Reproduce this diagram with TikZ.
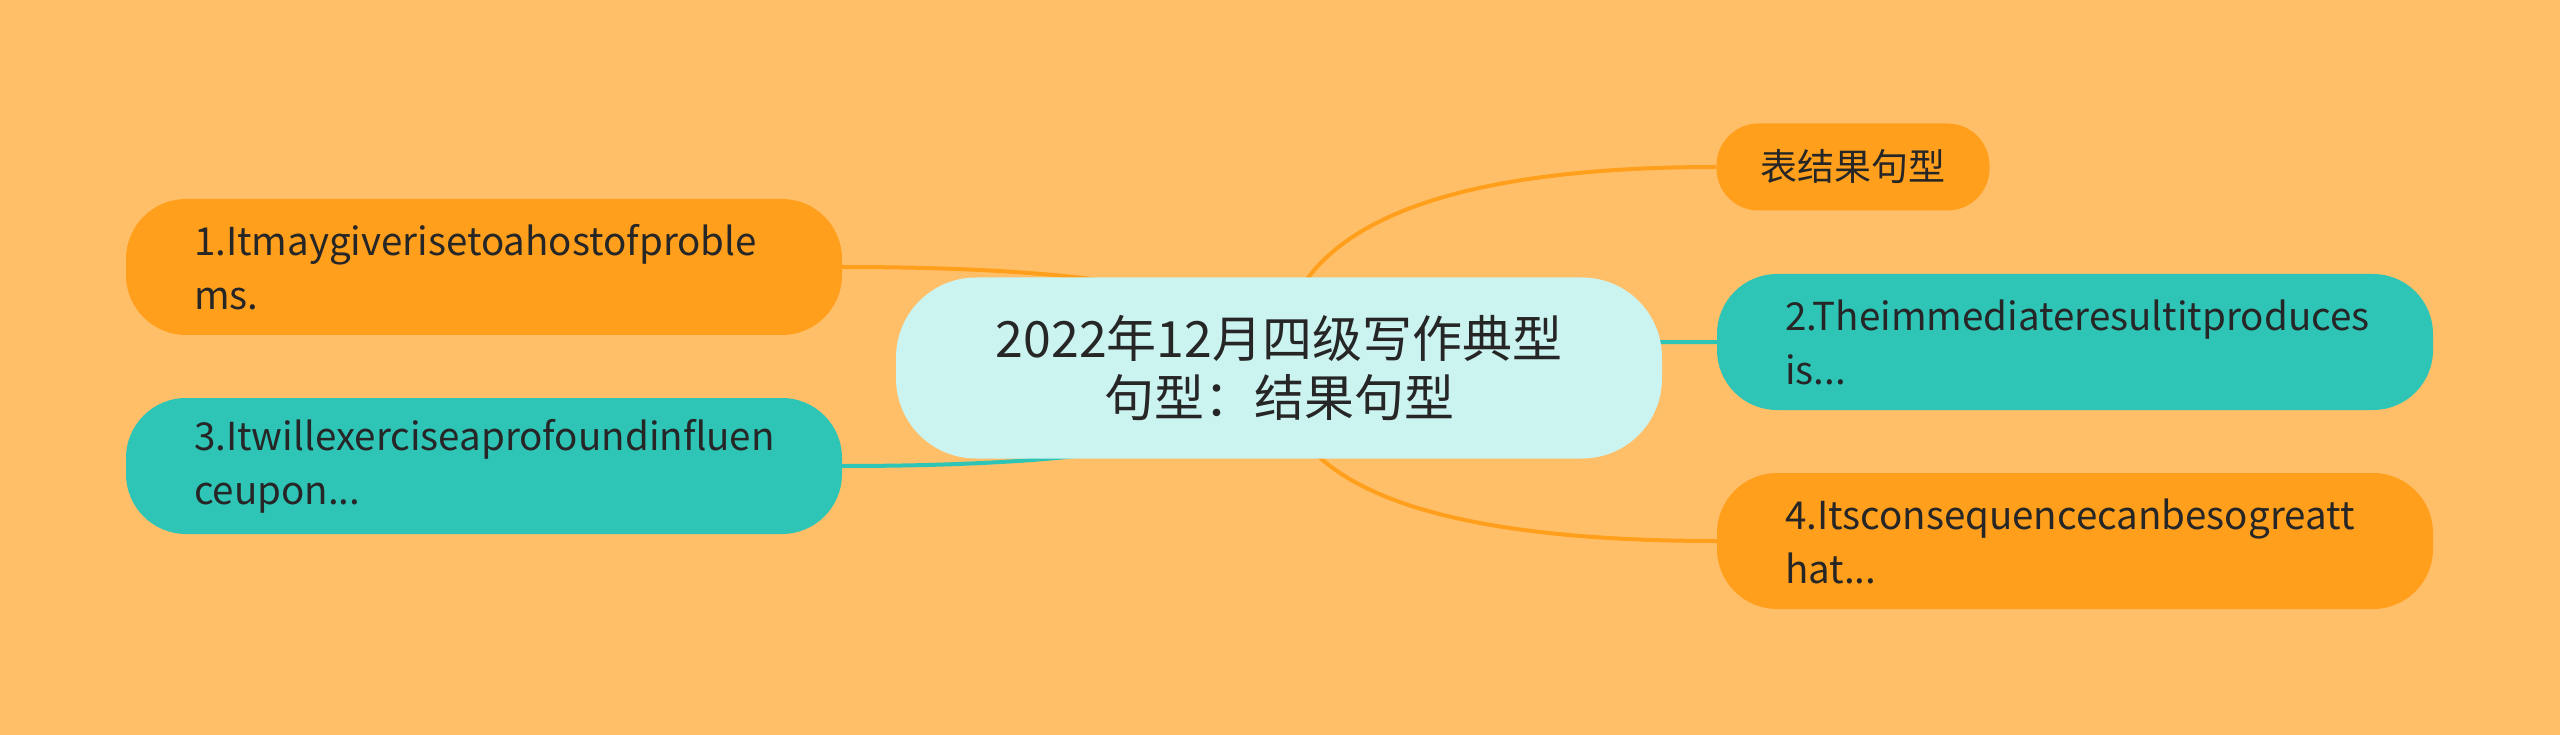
\documentclass[tikz,border=0pt]{standalone}
\usepackage{fontspec}
\setmainfont{Noto Sans CJK SC}
\usetikzlibrary{calc}
\definecolor{bgc}{HTML}{FFBF69}
\definecolor{orn}{HTML}{FF9F1C}
\definecolor{tea}{HTML}{2EC4B6}
\definecolor{cen}{HTML}{CBF3F0}
\definecolor{txt}{HTML}{262626}
\pgfdeclarelayer{bg}
\pgfsetlayers{bg,main}
\begin{document}
\begin{tikzpicture}[x=1pt,y=-1pt,
  root/.style={fill=cen, rounded corners=80pt, minimum width=766pt, minimum height=181pt,
    inner sep=0pt, align=center, text=txt, font=\fontsize{50}{59}\selectfont},
  leaf/.style={rounded corners=60pt, minimum height=136pt, inner xsep=68pt, inner ysep=0pt,
    text width=580pt, align=left, text=txt, font=\fontsize{38.5}{54}\selectfont},
  small/.style={rounded corners=42pt, minimum height=87pt, inner xsep=44pt, inner ysep=0pt,
    text=txt, font=\fontsize{37}{44}\selectfont},
  ornbox/.style={fill=orn},
  teabox/.style={fill=tea},
  link/.style={line width=4pt},
]
\begin{pgfonlayer}{bg}
\fill[bgc] (0,0) rectangle (2560,735);
\end{pgfonlayer}
\useasboundingbox (0,0) rectangle (2560,735);

\node[root] (c) at (1279,368) {2022年12月四级写作典型\\句型：结果句型};
\node[leaf,ornbox] (n1) at (484,267) {1.Itmaygiverisetoahostofproble\\ms.};
\node[leaf,teabox] (n3) at (484,466) {3.Itwillexerciseaprofoundinfluen\\ceupon...};
\node[small,ornbox] (t) at (1853,167) {表结果句型};
\node[leaf,teabox] (n2) at (2075,342) {2.Theimmediateresultitproduces\\is...};
\node[leaf,ornbox] (n4) at (2075,541) {4.Itsconsequencecanbesogreatt\\hat...};

\begin{pgfonlayer}{bg}
\coordinate (q1) at (c.center |- n1.east);
\coordinate (q3) at (c.center |- n3.east);
\coordinate (qt) at (c.center |- t.west);
\coordinate (q2) at (c.center |- n2.west);
\coordinate (q4) at (c.center |- n4.west);
\draw[link,orn] (c.center) .. controls ($(c.center)!2/3!(q1)$) and ($(n1.east)!2/3!(q1)$) .. (n1.east);
\draw[link,tea] (c.center) .. controls ($(c.center)!2/3!(q3)$) and ($(n3.east)!2/3!(q3)$) .. (n3.east);
\draw[link,orn] (c.center) .. controls ($(c.center)!2/3!(qt)$) and ($(t.west)!2/3!(qt)$) .. (t.west);
\draw[link,tea] (c.center) .. controls ($(c.center)!2/3!(q2)$) and ($(n2.west)!2/3!(q2)$) .. (n2.west);
\draw[link,orn] (c.center) .. controls ($(c.center)!2/3!(q4)$) and ($(n4.west)!2/3!(q4)$) .. (n4.west);
\end{pgfonlayer}
\end{tikzpicture}
\end{document}
